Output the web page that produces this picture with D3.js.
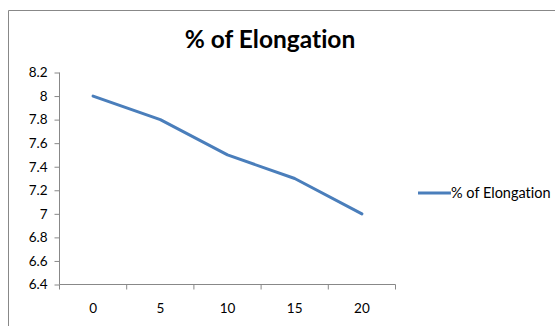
<!DOCTYPE html>
<html><head><meta charset="utf-8">
<script src="https://cdn.jsdelivr.net/npm/d3@7"></script>
<style>body{margin:0;background:#fff}svg{display:block}text{font-family:Lato,"Open Sans",sans-serif;fill:#000;font-variant-ligatures:none;font-feature-settings:"liga" 0,"clig" 0}</style>
</head><body>
<svg id="c" width="555" height="326"></svg>
<script>
const title = "% of Elongation";
const seriesName = "% of Elongation";
const categories = ["0", "5", "10", "15", "20"];
const values = [8.0, 7.8, 7.5, 7.3, 7.0];
const yTicks = [6.4, 6.6, 6.8, 7.0, 7.2, 7.4, 7.6, 7.8, 8.0, 8.2];

const svg = d3.select("#c");
svg.append("path").attr("d","M8.5,326 V10.5 H555").attr("fill","none").attr("stroke","#888").attr("stroke-width",1);

const x = d3.scaleBand().domain(categories).range([59.5, 395.5]);
const y = d3.scaleLinear().domain([6.4, 8.2]).range([284.5, 72.5]);

svg.append("text").attr("x", 270).attr("y", 47.5).attr("text-anchor","middle")
  .attr("font-size", 24.5).attr("font-weight","bold").text(title);

const yAxis = svg.append("g").attr("transform","translate(59.5,0)")
  .call(d3.axisLeft(y).tickValues(yTicks).tickSize(5).tickPadding(7).tickFormat(d => String(+d.toFixed(1))));
yAxis.select(".domain").attr("stroke","#888").attr("d","M0,72.5V284.5");
yAxis.selectAll(".tick line").attr("stroke","#888");
yAxis.selectAll("text").attr("font-size",13.5).attr("font-family","Lato");

const xAxis = svg.append("g").attr("transform","translate(0,284.5)");
xAxis.append("line").attr("x1",59.5).attr("x2",395.5).attr("stroke","#888");
const edges = categories.map(c => x(c)).concat([x(categories[categories.length-1]) + x.bandwidth()]);
xAxis.selectAll(".tk").data(edges).enter().append("line")
  .attr("x1",d=>d).attr("x2",d=>d).attr("y1",0).attr("y2",5).attr("stroke","#888");
xAxis.selectAll(".lb").data(categories).enter().append("text")
  .attr("x", d => x(d) + x.bandwidth()/2).attr("y", 28).attr("text-anchor","middle")
  .attr("font-size",13.5).text(d=>d);

const line = d3.line().x((d,i)=>x(categories[i]) + x.bandwidth()/2).y(d=>y(d));
svg.append("path").datum(values).attr("d", line).attr("fill","none")
  .attr("stroke","#4a7ebb").attr("stroke-width",3).attr("stroke-linejoin","round").attr("stroke-linecap","round");

const lg = svg.append("g").attr("transform","translate(418,193)");
lg.append("line").attr("x1",0).attr("x2",33).attr("stroke","#4a7ebb").attr("stroke-width",3);
lg.append("text").attr("x",33).attr("y",5).attr("font-size",14.5).text(seriesName);
</script>
</body></html>
